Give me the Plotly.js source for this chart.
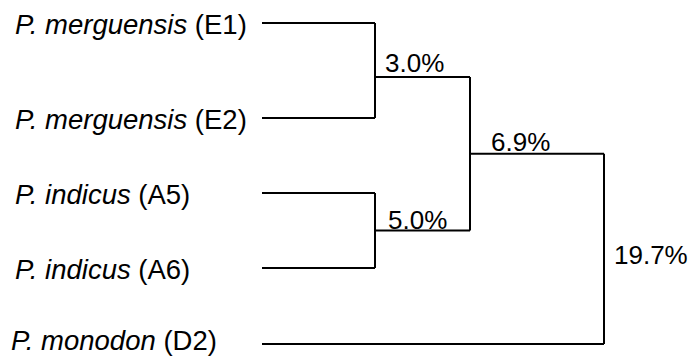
<!DOCTYPE html>
<html>
<head>
<meta charset="utf-8">
<script src="https://cdn.plot.ly/plotly-3.0.1.min.js"></script>
<style>html,body{margin:0;padding:0;background:#fff;}#chart{width:694px;height:359px;}</style>
</head>
<body>
<div id="chart"></div>
<script>
// ---- data ----
const species = ['P. merguensis', 'P. merguensis', 'P. indicus', 'P. indicus', 'P. monodon'];
const isolates = ['E1', 'E2', 'A5', 'A6', 'D2'];
// merges (linkage style): leaves are 0..4, new clusters are 5,6,7,8
const mergeA = [0, 2, 5, 7];
const mergeB = [1, 3, 6, 4];
const distances = [3.0, 5.0, 6.9, 19.7];

// ---- schematic layout (pixel-like axis units) ----
const W = 694, H = 359;
const colX = [262, 375, 470, 604];          // x of leaf start and of each merge depth
const rowY = [23, 118, 193, 268, 344];      // leaf rows
const nodeYOverride = {5: 77};              // drawn position of the first cluster's joint
const distShiftX = [8, 11, 19, 8];
const distShiftY = [-3, -6, -5, -6];
const leafShiftX = [0, 0, 0, 0, -4];
const leafShiftY = [-1, -1, -1, -1, 4];
const labelX = 13;
const FONT = 'Arial, "Liberation Sans", Helvetica, sans-serif';
const FS = 26, FS_LEAF = 27.5;

const nLeaves = species.length;
const nodeY = {}, nodeDepth = {};
for (let i = 0; i < nLeaves; i++) { nodeY[i] = rowY[i]; nodeDepth[i] = 0; }

const lx = [], ly = [];
const annotations = [];
function seg(x0, y0, x1, y1) { lx.push(x0, x1, null); ly.push(y0, y1, null); }

mergeA.forEach((a, k) => {
  const b = mergeB[k];
  const id = nLeaves + k;
  const d = 1 + Math.max(nodeDepth[a], nodeDepth[b]);
  nodeDepth[id] = d;
  const x = colX[d];
  [a, b].forEach(c => seg(colX[nodeDepth[c]], nodeY[c], x, nodeY[c]));
  seg(x, nodeY[a], x, nodeY[b]);
  const y = (id in nodeYOverride) ? nodeYOverride[id] : (nodeY[a] + nodeY[b]) / 2;
  nodeY[id] = y;
  const txt = distances[k].toFixed(1) + '%';
  if (k === mergeA.length - 1) {
    annotations.push({x: x, y: (nodeY[a] + nodeY[b]) / 2, xref: 'x', yref: 'y', text: txt,
      showarrow: false, xanchor: 'left', yanchor: 'middle', xshift: distShiftX[k], yshift: distShiftY[k],
      font: {family: FONT, size: FS, color: '#000'}});
  } else {
    annotations.push({x: x, y: y, xref: 'x', yref: 'y', text: txt,
      showarrow: false, xanchor: 'left', yanchor: 'bottom', xshift: distShiftX[k], yshift: distShiftY[k],
      font: {family: FONT, size: FS, color: '#000'}});
  }
});

for (let i = 0; i < nLeaves; i++) {
  annotations.push({x: labelX, y: rowY[i], xref: 'x', yref: 'y',
    text: '<i>' + species[i] + '</i> (' + isolates[i] + ')',
    showarrow: false, xanchor: 'left', yanchor: 'middle',
    xshift: leafShiftX[i], yshift: leafShiftY[i],
    font: {family: FONT, size: FS_LEAF, color: '#000'}});
}

const trace = {x: lx, y: ly, mode: 'lines', type: 'scatter',
  line: {color: '#000', width: 2, shape: 'linear'}, hoverinfo: 'skip', showlegend: false};

const layout = {
  width: W, height: H,
  margin: {l: 0, r: 0, t: 0, b: 0, pad: 0},
  paper_bgcolor: '#fff', plot_bgcolor: '#fff',
  xaxis: {range: [0, W], visible: false, fixedrange: true},
  yaxis: {range: [H, 0], visible: false, fixedrange: true},
  annotations: annotations,
  showlegend: false
};
Plotly.newPlot('chart', [trace], layout, {staticPlot: true, displayModeBar: false});
</script>
</body>
</html>
